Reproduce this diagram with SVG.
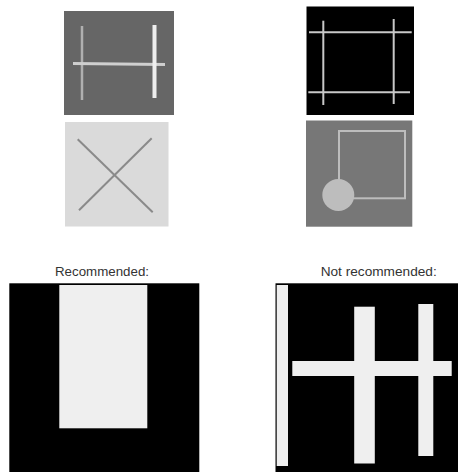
<svg xmlns="http://www.w3.org/2000/svg" width="458" height="473" viewBox="0 0 458 473">
<style>
.lbl{font-family:"Liberation Sans",Arial,sans-serif;font-size:13.5px;fill:#333;text-anchor:start}
.bar{fill:#efefef}
</style>
<rect width="458" height="473" fill="#ffffff"/>
<!-- top-left: H panel -->
<rect x="64" y="11" width="110" height="104" fill="#666666"/>
<line x1="82" y1="26" x2="82" y2="100" stroke="#b0b0b0" stroke-width="2.5"/>
<line x1="73" y1="63.5" x2="165" y2="64.5" stroke="#cfcfcf" stroke-width="3"/>
<line x1="154.5" y1="25" x2="154.5" y2="98" stroke="#eeeeee" stroke-width="4"/>
<!-- bottom-left: X panel -->
<rect x="65" y="122" width="103.5" height="104.5" fill="#dadada"/>
<line x1="77.7" y1="139.3" x2="152.7" y2="212.3" stroke="#8a8a8a" stroke-width="2"/>
<line x1="151.7" y1="138.3" x2="79" y2="210.3" stroke="#8a8a8a" stroke-width="2"/>
<!-- top-right: grid panel -->
<rect x="306.5" y="6.5" width="107.5" height="108.5" fill="#000000"/>
<g stroke="#c8c8c8" stroke-width="2">
<line x1="309" y1="32.3" x2="411.7" y2="32.3"/>
<line x1="308.3" y1="92.3" x2="410" y2="92.3"/>
<line x1="323.3" y1="20.7" x2="323.3" y2="105"/>
<line x1="393.7" y1="19" x2="393.7" y2="104"/>
</g>
<!-- bottom-right: square + circle panel -->
<rect x="306" y="120.5" width="106.3" height="106.2" fill="#777777"/>
<rect x="339" y="131" width="66" height="67.3" fill="none" stroke="#bdbdbd" stroke-width="2"/>
<circle cx="338.3" cy="195" r="16" fill="#bdbdbd"/>
<!-- Recommended -->
<text class="lbl" x="55" y="276" textLength="94" lengthAdjust="spacingAndGlyphs">Recommended:</text>
<rect x="9.3" y="283.3" width="190" height="188.7" fill="#000000"/>
<rect class="bar" x="59.3" y="285" width="88" height="143.3"/>
<!-- Not recommended -->
<text class="lbl" x="320.7" y="276" textLength="116" lengthAdjust="spacingAndGlyphs">Not recommended:</text>
<rect x="275.5" y="283.3" width="182.5" height="188.7" fill="#000000"/>
<rect class="bar" x="276.7" y="285" width="11.3" height="181"/>
<rect class="bar" x="354.2" y="306.7" width="20.6" height="156.8"/>
<rect class="bar" x="418.3" y="304" width="15" height="152"/>
<rect class="bar" x="292.3" y="361" width="159.4" height="15"/>
</svg>
